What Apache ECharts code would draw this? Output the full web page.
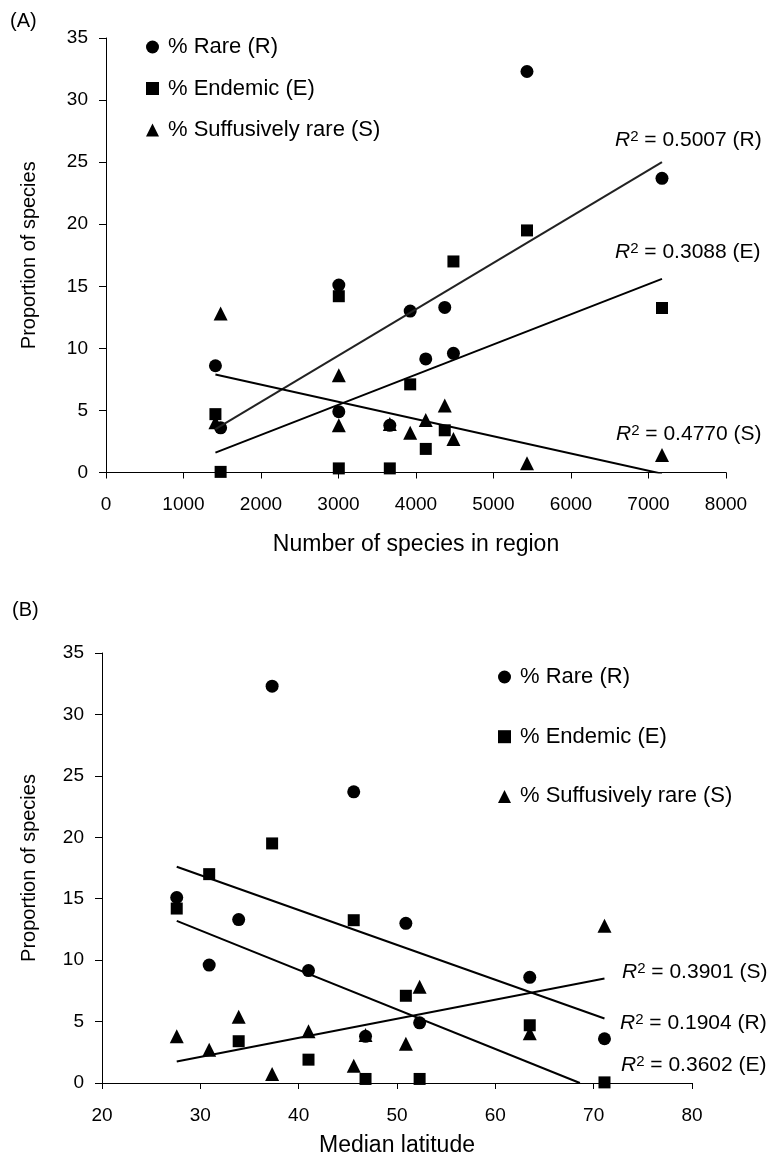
<!DOCTYPE html>
<html>
<head>
<meta charset="utf-8">
<script src="https://cdn.jsdelivr.net/npm/echarts@6/dist/echarts.min.js"></script>
<style>
html, body { margin: 0; padding: 0; background: #fff; }
#chart { width: 768px; height: 1162px; }
</style>
</head>
<body>
<div id="chart"></div>
<script>
// one entry per region, same order in every array
var speciesInRegion = [5432, 7174, 3004, 3925, 4371, 1412, 4126, 4483, 3004, 1479, 3662];
var medianLatitude  = [37.3, 45.6, 27.6, 50.9, 33.9, 63.5, 41.0, 30.9, 52.3, 71.1, 46.8];
var pctRare         = [32.3, 23.7, 15.1, 13.0, 13.3, 8.6, 9.15, 9.6, 4.9, 3.6, 3.8];
var pctEndemic      = [19.5, 13.25, 14.2, 7.1, 3.4, 4.7, 1.9, 17.0, 0.33, 0.05, 0.33];
var pctSuffusive    = [0.74, 1.4, 3.8, 3.2, 5.4, 4.05, 4.22, 2.7, 7.84, 12.8, 3.9];

// trend line end points
var trendA_R = [[1412, 3.5], [7174, 25.0]];
var trendA_E = [[1412, 1.6], [7174, 15.6]];
var trendA_S = [[1412, 7.9], [7174, -0.1]];
var trendB_R = [[27.6, 17.6], [71.1, 5.25]];
var trendB_E = [[27.6, 13.2], [68.6, 0]];
var trendB_S = [[27.6, 1.75], [71.1, 8.5]];

var seriesNames = ['% Rare (R)', '% Endemic (E)', '% Suffusively rare (S)'];
var r2Labels = {
  aR: '0.5007 (R)', aE: '0.3088 (E)', aS: '0.4770 (S)',
  bS: '0.3901 (S)', bR: '0.1904 (R)', bE: '0.3602 (E)'
};

var FONT = '"Liberation Sans", Arial, Helvetica, sans-serif';

function pairs(xs, ys) {
  return xs.map(function (x, i) { return [x, ys[i]]; });
}

function scatter(name, symbol, size, xs, ys, idx) {
  return {
    name: name, type: 'scatter', symbol: symbol, symbolSize: size,
    xAxisIndex: idx, yAxisIndex: idx,
    itemStyle: { color: '#000', opacity: 1 },
    data: pairs(xs, ys), z: 3
  };
}

function trend(data, idx, color) {
  return {
    type: 'line', data: data, xAxisIndex: idx, yAxisIndex: idx,
    symbol: 'none', silent: true, clip: true,
    lineStyle: { color: color || '#000', width: 2 }, z: 4
  };
}

function xAxisCfg(idx, min, max, step, name, gap) {
  return {
    type: 'value', gridIndex: idx, min: min, max: max, interval: step, name: name,
    nameLocation: 'middle', nameGap: gap,
    nameTextStyle: { fontSize: 23, color: '#000', fontFamily: FONT },
    axisLine: { show: true, lineStyle: { color: '#000', width: 1 } },
    axisTick: { show: true, length: 6, lineStyle: { color: '#000' } },
    axisLabel: {
      fontSize: 19, color: '#000', fontFamily: FONT, margin: 23,
      formatter: function (v) { return String(v); }
    },
    splitLine: { show: false }
  };
}

function yAxisCfg(idx, gap) {
  return {
    type: 'value', gridIndex: idx, min: 0, max: 35, interval: 5,
    name: 'Proportion of species', nameLocation: 'middle', nameGap: gap, nameRotate: 90,
    nameTextStyle: { fontSize: 20, color: '#000', fontFamily: FONT },
    axisLine: { show: true, lineStyle: { color: '#000', width: 1 } },
    axisTick: { show: true, length: 7, lineStyle: { color: '#000' } },
    axisLabel: { fontSize: 19, color: '#000', fontFamily: FONT, margin: 18 },
    splitLine: { show: false }
  };
}

function legendCfg(left, top, gap) {
  return {
    data: seriesNames, orient: 'vertical', left: left, top: top, itemGap: gap,
    itemWidth: 13, itemHeight: 13, selectedMode: false,
    textStyle: { fontSize: 22, color: '#000', fontFamily: FONT, lineHeight: 22, padding: [0, 0, 0, 4] }
  };
}

function r2Text(x, y, tail) {
  return {
    type: 'text', x: x, y: y, silent: true,
    style: {
      text: '{i|R}{s|2}{n| = ' + tail + '}',
      verticalAlign: 'middle', align: 'left',
      rich: {
        i: { fontStyle: 'italic', fontSize: 21, fontFamily: FONT, fill: '#000', lineHeight: 22 },
        s: { fontSize: 15, fontFamily: FONT, fill: '#000', verticalAlign: 'top', lineHeight: 14 },
        n: { fontSize: 21, fontFamily: FONT, fill: '#000', lineHeight: 22 }
      }
    }
  };
}

var myChart = echarts.init(document.getElementById('chart'), null, { renderer: 'canvas' });

myChart.setOption({
  backgroundColor: '#fff',
  animation: false,
  grid: [
    { left: 106, top: 38, width: 620, height: 434.5, outerBoundsMode: 'none' },
    { left: 102, top: 653, width: 590, height: 430, outerBoundsMode: 'none' }
  ],
  xAxis: [
    xAxisCfg(0, 0, 8000, 1000, 'Number of species in region', 61),
    xAxisCfg(1, 20, 80, 10, 'Median latitude', 51)
  ],
  yAxis: [yAxisCfg(0, 67), yAxisCfg(1, 63)],
  legend: [legendCfg(141, 31, 19.5), legendCfg(493, 661, 37.7)],
  graphic: [
    { type: 'text', x: 10, y: 21, style: { text: '(A)', font: '20px ' + FONT, fill: '#000', verticalAlign: 'middle' } },
    { type: 'text', x: 12, y: 610, style: { text: '(B)', font: '20px ' + FONT, fill: '#000', verticalAlign: 'middle' } },
    r2Text(615, 140, r2Labels.aR),
    r2Text(615, 252, r2Labels.aE),
    r2Text(616, 434, r2Labels.aS),
    r2Text(622, 972, r2Labels.bS),
    r2Text(620, 1023, r2Labels.bR),
    r2Text(621, 1065, r2Labels.bE)
  ],
  series: [
    scatter(seriesNames[0], 'circle', 13, speciesInRegion, pctRare, 0),
    scatter(seriesNames[1], 'rect', 12, speciesInRegion, pctEndemic, 0),
    scatter(seriesNames[2], 'triangle', 14, speciesInRegion, pctSuffusive, 0),
    trend(trendA_R, 0, '#222'),
    trend(trendA_E, 0),
    trend(trendA_S, 0),
    scatter(seriesNames[0], 'circle', 13, medianLatitude, pctRare, 1),
    scatter(seriesNames[1], 'rect', 12, medianLatitude, pctEndemic, 1),
    scatter(seriesNames[2], 'triangle', 14, medianLatitude, pctSuffusive, 1),
    trend(trendB_R, 1),
    trend(trendB_E, 1),
    trend(trendB_S, 1)
  ]
});
</script>
</body>
</html>
